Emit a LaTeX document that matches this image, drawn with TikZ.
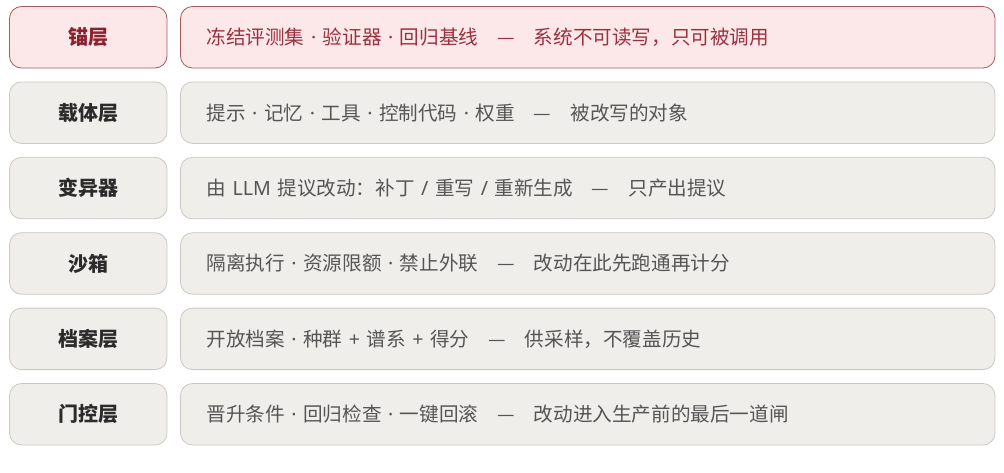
\documentclass[tikz,border=0pt]{standalone}
\usepackage{fontspec}
\setmainfont{Noto Sans CJK SC}
\newfontfamily\latinf{Noto Sans}
\definecolor{greyfill}{HTML}{F0EEEA}
\definecolor{greyline}{HTML}{CCC9C3}
\definecolor{pinkfill}{HTML}{FCE8E8}
\definecolor{pinkline}{HTML}{A85A62}
\definecolor{labtext}{HTML}{2B2B2B}
\definecolor{bodytext}{HTML}{555555}
\definecolor{redlab}{HTML}{8A2230}
\definecolor{redtext}{HTML}{9A3040}
\newcommand{\sepdash}{\hspace{19pt}—\hspace{19pt}}
\newcommand{\md}{{\latinf\ ·\ }}
\newcommand{\slsep}{{\latinf\ /\ }}
\newcommand{\plsep}{{\latinf\ +\ }}
\begin{document}
\begin{tikzpicture}[x=1pt,y=-1pt,
  basebox/.style={rounded corners=12pt, line width=0.8pt, inner sep=0pt},
  labbox/.style={basebox, draw=greyline, fill=greyfill, minimum width=157.5pt, minimum height=61.5pt,
     text=labtext, font=\fontsize{20}{24}\selectfont\bfseries},
  txtbox/.style={basebox, draw=greyline, fill=greyfill, minimum width=814.5pt, minimum height=61.5pt,
     text=bodytext, font=\fontsize{19.6}{23}\selectfont, text width=762.5pt, align=left, inner xsep=26pt},
  anchorlab/.style={draw=pinkline, fill=pinkfill, text=redlab},
  anchortxt/.style={draw=pinkline, fill=pinkfill, text=redtext}]
\useasboundingbox (0,0) rectangle (1004,472);
\fill[white] (0,0) rectangle (1004,472);
\node[labbox, anchorlab] (l0) at (88.25, 37.25) {锚层};
\node[txtbox, anchortxt] (t0) at (587.75, 37.25) {冻结评测集\md 验证器\md 回归基线\sepdash 系统不可读写，只可被调用};
\node[labbox] (l1) at (88.25, 112.65) {载体层};
\node[txtbox] (t1) at (587.75, 112.65) {提示\md 记忆\md 工具\md 控制代码\md 权重\sepdash 被改写的对象};
\node[labbox] (l2) at (88.25, 188.05) {变异器};
\node[txtbox] (t2) at (587.75, 188.05) {由 {\latinf LLM} 提议改动：补丁\slsep 重写\slsep 重新生成\sepdash 只产出提议};
\node[labbox] (l3) at (88.25, 263.45) {沙箱};
\node[txtbox] (t3) at (587.75, 263.45) {隔离执行\md 资源限额\md 禁止外联\sepdash 改动在此先跑通再计分};
\node[labbox] (l4) at (88.25, 338.85) {档案层};
\node[txtbox] (t4) at (587.75, 338.85) {开放档案\md 种群\plsep 谱系\plsep 得分\sepdash 供采样，不覆盖历史};
\node[labbox] (l5) at (88.25, 414.25) {门控层};
\node[txtbox] (t5) at (587.75, 414.25) {晋升条件\md 回归检查\md 一键回滚\sepdash 改动进入生产前的最后一道闸};
\end{tikzpicture}
\end{document}
